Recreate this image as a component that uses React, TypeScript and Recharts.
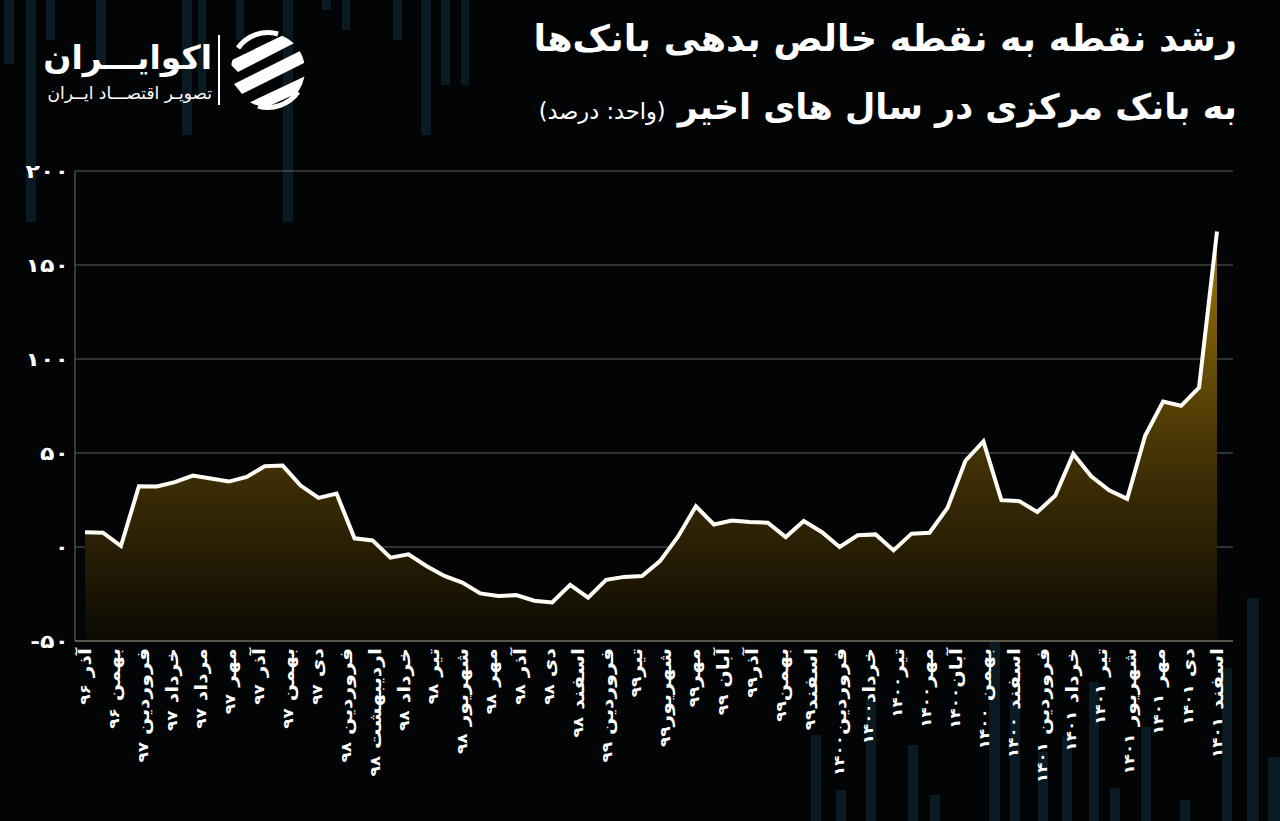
import { AreaChart, Area, XAxis, YAxis, CartesianGrid } from 'recharts'

// رشد نقطه به نقطه خالص بدهی بانک‌ها به بانک مرکزی (ماهانه، آذر ۹۶ تا اسفند ۱۴۰۱)
const VALUES = [
  7.9, 7.6, 0.5, 32.3, 32.2, 34.5, 38.0, 36.4, 34.8, 37.3, 42.9, 43.3, 32.7, 26.1, 28.4, 4.6,
  3.5, -5.7, -3.9, -10.1, -15.4, -18.9, -24.7, -26.0, -25.6, -28.6, -29.5, -20.1, -26.9, -17.5, -15.9, -15.4,
  -7.5, 5.5, 21.7, 12.0, 14.1, 13.3, 12.9, 5.3, 13.8, 8.0, 0.0, 6.2, 6.7, -1.8, 7.1, 7.6,
  20.8, 45.9, 56.2, 24.9, 24.4, 18.6, 27.4, 49.5, 37.6, 30.2, 25.6, 59.2, 77.4, 75.1, 84.8, 167.8,
]

const X_LABELS = [
  'آذر ۹۶', 'بهمن ۹۶', 'فروردین ۹۷', 'خرداد ۹۷', 'مرداد ۹۷', 'مهر ۹۷', 'آذر ۹۷', 'بهمن ۹۷',
  'دی ۹۷', 'فروردین ۹۸', 'اردیبهشت ۹۸', 'خرداد ۹۸', 'تیر ۹۸', 'شهریور ۹۸', 'مهر ۹۸', 'آذر ۹۸',
  'دی ۹۸', 'اسفند ۹۸', 'فروردین ۹۹', 'تیر۹۹', 'شهریور۹۹', 'مهر۹۹', 'آبان ۹۹', 'آذر۹۹',
  'بهمن۹۹', 'اسفند۹۹', 'فروردین۱۴۰۰', 'خرداد۱۴۰۰', 'تیر۱۴۰۰', 'مهر۱۴۰۰', 'آبان۱۴۰۰', 'بهمن ۱۴۰۰',
  'اسفند ۱۴۰۰', 'فروردین ۱۴۰۱', 'خرداد ۱۴۰۱', 'تیر ۱۴۰۱', 'شهریور ۱۴۰۱', 'مهر ۱۴۰۱', 'دی ۱۴۰۱', 'اسفند ۱۴۰۱',
]

const Y_TICKS = [-50, 0, 50, 100, 150, 200]

// نوارهای تزئینی پس‌زمینه [x, top, width, height]
const BG_BARS = [
  [4, 0, 10, 64], [26, 0, 10, 222], [46, 0, 9, 40], [96, 0, 10, 70], [182, 0, 10, 135],
  [198, 0, 8, 95], [236, 0, 8, 40], [283, 0, 10, 222], [322, 0, 9, 10], [342, 0, 8, 30],
  [393, 0, 9, 40], [421, 0, 10, 135], [441, 0, 9, 85], [461, 0, 8, 85],
  [811, 735, 10, 86], [836, 790, 10, 31], [866, 700, 10, 121], [908, 745, 10, 76],
  [930, 795, 10, 26], [989, 598, 11, 223], [1010, 700, 10, 121], [1038, 752, 10, 69],
  [1062, 736, 10, 85], [1089, 682, 10, 139], [1110, 788, 10, 33], [1141, 727, 10, 94],
  [1180, 800, 10, 21], [1222, 668, 10, 153], [1247, 598, 12, 223], [1268, 757, 12, 64],
]

const toFa = (n: number) =>
  String(n).replace(/\d/g, d => '۰۱۲۳۴۵۶۷۸۹'[Number(d)])

const data = VALUES.map((v, i) => ({ i, v }))
const last = VALUES.length - 1
const xTicks = X_LABELS.map((_, k) => (k * last) / (X_LABELS.length - 1))

const FONT = '"DejaVu Sans", "Noto Sans", sans-serif'

function XTick({ x, y, payload }: any) {
  const k = Math.round((payload.value * (X_LABELS.length - 1)) / last)
  // ماه و سال جدا، تا ارقام کمی کوچک‌تر باشند
  const m = X_LABELS[k].match(/^(.*?)\s*([۰-۹]+)$/)
  const word = m ? m[1] : X_LABELS[k]
  const num = m ? m[2] : ''
  const spaced = /\s/.test(X_LABELS[k])
  return (
    <text
      x={0}
      y={0}
      transform={`translate(${x}, ${y}) rotate(-90) scale(1.2, 1)`}
      textAnchor="end"
      dominantBaseline="central"
      fill="#ffffff"
      fontSize={17}
      fontWeight="bold"
      fontFamily={FONT}
    >
      {word + (spaced ? ' ' : '')}
      <tspan fontSize={14}>{num}</tspan>
    </text>
  )
}

function YTick({ x, y, payload }: any) {
  return (
    <text
      x={0}
      y={0}
      transform={`translate(${x}, ${y}) scale(1.25, 1)`}
      textAnchor="end"
      dominantBaseline="central"
      fill="#ffffff"
      fontSize={19}
      fontWeight="bold"
      fontFamily={FONT}
    >
      {toFa(payload.value)}
    </text>
  )
}

function Logo() {
  return (
    <svg width={80} height={80} viewBox="-40 -40 80 80" style={{ position: 'absolute', left: 228, top: 30 }}>
      <defs>
        <clipPath id="logoClip">
          <circle r={37} />
        </clipPath>
      </defs>
      <g clipPath="url(#logoClip)" fill="#ffffff">
        <path d="M-40 -8 L 30 -42 L 40 -34 L -30 2 Z" />
        <path d="M-34 14 L 38 -22 L 42 -10 L -26 24 Z" />
        <path d="M-26 36 L 42 4 L 40 18 L -16 44 Z" />
      </g>
      <path d="M -30 -22 A 37 37 0 0 1 10 -36" stroke="#fff" strokeWidth={5} fill="none" />
      <path d="M 30 22 A 37 37 0 0 1 -10 36" stroke="#fff" strokeWidth={5} fill="none" />
    </svg>
  )
}

export default function App() {
  return (
    <div
      style={{
        position: 'absolute',
        left: 0,
        top: 0,
        width: 1280,
        height: 821,
        background: '#020405',
        overflow: 'hidden',
        fontFamily: FONT,
      }}
    >
      {BG_BARS.map(([x, t, w, h], k) => (
        <div
          key={k}
          style={{ position: 'absolute', left: x, top: t, width: w, height: h, background: '#091a22' }}
        />
      ))}

      {/* لوگو */}
      <div
        style={{
          position: 'absolute', left: 30, top: 38, width: 182, textAlign: 'right',
          direction: 'rtl', color: '#fff', fontWeight: 'bold', fontSize: 33, lineHeight: '40px',
        }}
      >
        اکوایـــران
      </div>
      <div
        style={{
          position: 'absolute', left: 30, top: 82, width: 182, textAlign: 'right',
          direction: 'rtl', color: '#fff', fontSize: 17, lineHeight: '22px',
        }}
      >
        تصویـر اقتصـــاد ایــران
      </div>
      <div style={{ position: 'absolute', left: 218, top: 35, width: 2, height: 70, background: '#fff' }} />
      <Logo />

      {/* عنوان */}
      <div
        style={{
          position: 'absolute', right: 43, top: 15, direction: 'rtl', textAlign: 'right',
          color: '#fff', fontWeight: 'bold', fontSize: 36.5, lineHeight: '48px', whiteSpace: 'nowrap',
        }}
      >
        رشد نقطه به نقطه خالص بدهی بانک‌ها
      </div>
      <div
        style={{
          position: 'absolute', right: 43, top: 83, direction: 'rtl', textAlign: 'right',
          color: '#fff', fontWeight: 'bold', fontSize: 35, lineHeight: '48px', whiteSpace: 'nowrap',
        }}
      >
        به بانک مرکزی در سال های اخیر{' '}
        <span style={{ fontSize: 22.5, fontWeight: 'normal' }}>(واحد: درصد)</span>
      </div>

      <div style={{ position: 'absolute', left: 0, top: 0 }}>
        <AreaChart width={1280} height={821} data={data} margin={{ top: 171, right: 47, bottom: 0, left: 0 }}>
          <defs>
            <linearGradient id="gold" x1="0" y1="0" x2="0" y2="1">
              <stop offset="0%" stopColor="#a07808" />
              <stop offset="50%" stopColor="#4a3706" />
              <stop offset="100%" stopColor="#0b0903" />
            </linearGradient>
          </defs>
          <CartesianGrid vertical={false} stroke="#5e5e5e" strokeWidth={1} />
          <XAxis
            dataKey="i"
            type="number"
            domain={[0, last]}
            ticks={xTicks}
            interval={0}
            height={180}
            padding={{ left: 10, right: 16 }}
            tickLine={false}
            tickSize={0}
            tickMargin={7}
            axisLine={{ stroke: '#5a5648', strokeWidth: 2 }}
            tick={<XTick />}
          />
          <YAxis
            domain={[-50, 200]}
            ticks={Y_TICKS}
            width={75}
            tickLine={false}
            tickSize={6}
            tickMargin={0}
            axisLine={{ stroke: '#6a6a6a' }}
            tick={<YTick />}
          />
          <YAxis
            yAxisId="right"
            orientation="right"
            domain={[-50, 200]}
            width={0}
            tick={false}
            tickLine={false}
            axisLine={{ stroke: '#6a6a6a' }}
          />
          <Area
            type="linear"
            dataKey="v"
            baseValue="dataMin"
            stroke="#fffdf6"
            strokeWidth={4}
            fill="url(#gold)"
            fillOpacity={1}
            dot={false}
            activeDot={false}
            isAnimationActive={false}
          />
        </AreaChart>
      </div>
    </div>
  )
}
